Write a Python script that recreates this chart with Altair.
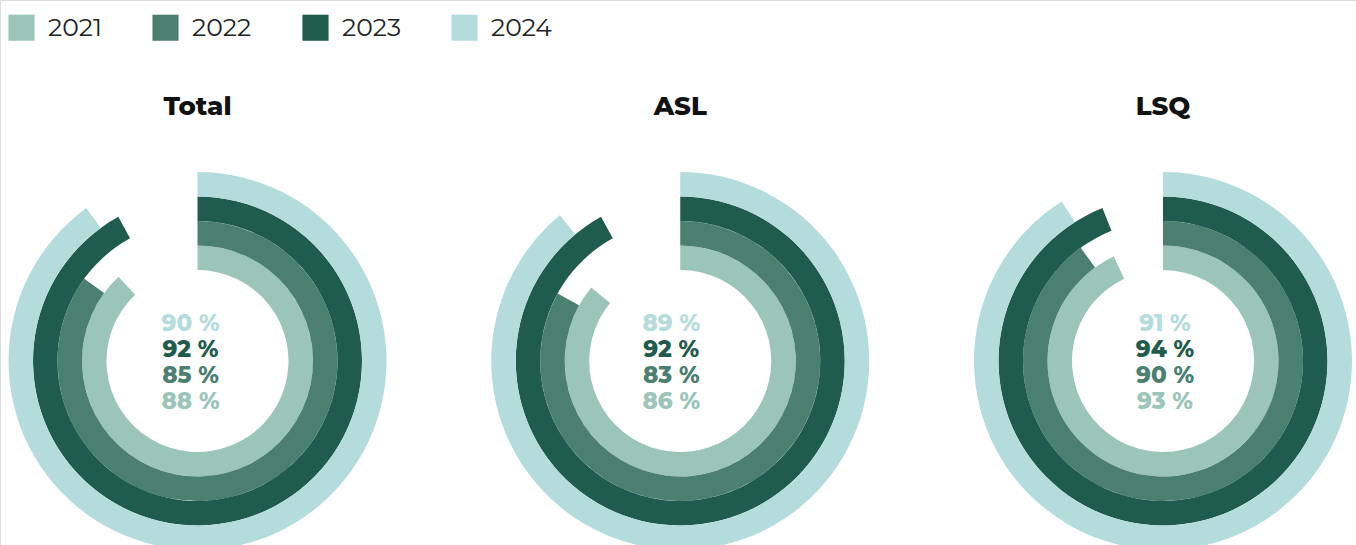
import math
import altair as alt
import pandas as pd

panels = ["Total", "ASL", "LSQ"]
years = ["2021", "2022", "2023", "2024"]
total_vals = [88, 85, 92, 90]
asl_vals = [86, 83, 92, 89]
lsq_vals = [93, 90, 94, 91]
colors = ["#9BC5B8", "#4B7F70", "#1F5C4D", "#B5DCDC"]
label_dx = [-7, -9, 2]

FONT = "Montserrat, Inter, sans-serif"

rows = []
for p, vals in zip(panels, [total_vals, asl_vals, lsq_vals]):
    for i, (y, v) in enumerate(zip(years, vals)):
        rows.append({"panel": p, "year": y, "ring": i, "ring_end": i + 1,
                     "value": v, "label": f"{v} %"})
df = pd.DataFrame(rows)
titles = pd.DataFrame({"panel": panels})

x_enc = alt.X("panel:N", scale=alt.Scale(domain=panels, type="point",
                                         range=[197.5, 1163], padding=0), axis=None)
color_enc = alt.Color(
    "year:N",
    scale=alt.Scale(domain=years, range=colors),
    legend=alt.Legend(
        title=None, orient="none", legendX=8, legendY=14, direction="horizontal",
        symbolType="square", symbolSize=680, symbolStrokeWidth=0, symbolOpacity=1,
        labelFontSize=25, labelFont=FONT, labelColor="#222222", labelOffset=13,
        columnPadding=50,
    ),
)

arcs = alt.Chart(df).mark_arc(stroke=None).encode(
    x=x_enc,
    y=alt.value(361),
    theta=alt.Theta("value:Q", stack=False,
                    scale=alt.Scale(domain=[0, 100], range=[0, 2 * math.pi])),
    theta2=alt.value(0),
    radius=alt.Radius("ring:Q", scale=alt.Scale(type="linear", domain=[0, 4],
                                               range=[91, 189], zero=False, nice=False)),
    radius2="ring_end:Q",
    color=color_enc,
)

label_layers = []
for p, dx in zip(panels, label_dx):
    label_layers.append(
        alt.Chart(df).transform_filter(alt.datum.panel == p).mark_text(
            font=FONT, fontSize=23, fontWeight=800, baseline="middle", align="center", dx=dx
        ).encode(
            x=x_enc,
            y=alt.Y("year:N", scale=alt.Scale(domain=list(reversed(years)), type="point",
                                              range=[323.5, 401.5], padding=0), axis=None),
            text="label:N",
            color=color_enc,
        )
    )

heads = alt.Chart(titles).mark_text(
    font=FONT, fontSize=26, fontWeight=800, baseline="middle", align="center",
    color="#111111"
).encode(
    x=x_enc,
    y=alt.value(107),
    text="panel:N",
)

chart = alt.layer(arcs, *label_layers, heads).properties(
    width=1356, height=545, padding=0, autosize=alt.AutoSizeParams(type="none")
).configure_view(stroke=None).configure(background="white")

chart.save("out.html", embed_options={"renderer": "svg", "actions": False})
